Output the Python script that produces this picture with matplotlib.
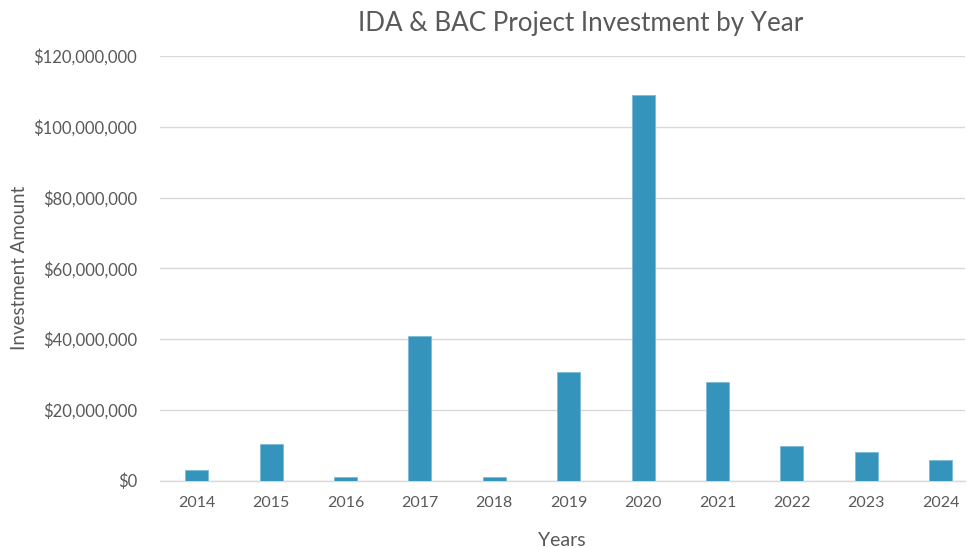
import numpy as np
import matplotlib.pyplot as plt
from matplotlib.ticker import FuncFormatter

plt.rcParams['font.family'] = ['Lato', 'DejaVu Sans']

# Investment per year
years = ["2014", "2015", "2016", "2017", "2018", "2019", "2020", "2021", "2022", "2023", "2024"]
amounts = [2.9e6, 10.3e6, 1.0e6, 41.0e6, 1.0e6, 30.6e6, 109.1e6, 27.9e6, 9.9e6, 8.0e6, 5.8e6]

TEXT = "#595959"
GRID = "#D9D9D9"
BAR = "#3594BC"

fig = plt.figure(figsize=(9.67, 5.48), dpi=100)
ax = fig.add_axes([159.5 / 967, 1 - 480.7 / 548, (965 - 159.5) / 967, (480.7 - 56) / 548])

x = np.arange(len(years))
ax.bar(x, amounts, width=0.31, color=BAR, edgecolor="#7FBAD6", linewidth=0.6, zorder=3)

ax.set_xlim(-0.5, (965 - 159.5) / 74.4 - 0.5)
ax.set_ylim(0, 120e6)
ax.set_yticks(np.arange(0, 120e6 + 1, 20e6))
ax.yaxis.set_major_formatter(FuncFormatter(lambda v, p: "${:,.0f}".format(v)))
ax.set_xticks(x)
ax.set_xticklabels(years)

ax.grid(axis="y", color=GRID, linewidth=1, zorder=0)
for s in ["top", "right", "left"]:
    ax.spines[s].set_visible(False)
ax.spines["bottom"].set_color(GRID)
ax.spines["bottom"].set_linewidth(1)
ax.tick_params(axis="both", length=0, colors=TEXT)
ax.tick_params(axis="y", pad=16, labelsize=12)
ax.tick_params(axis="x", pad=11, labelsize=11.5)

ax.set_xlabel("Years", color=TEXT, fontsize=14, labelpad=16)
ax.set_ylabel("Investment Amount", color=TEXT, fontsize=13.5, labelpad=4)
fig.text(0.6, 1 - 24 / 548, "IDA & BAC Project Investment by Year", color=TEXT,
         fontsize=18.7, ha="center", va="center")

fig.savefig("out.png", dpi=100)
